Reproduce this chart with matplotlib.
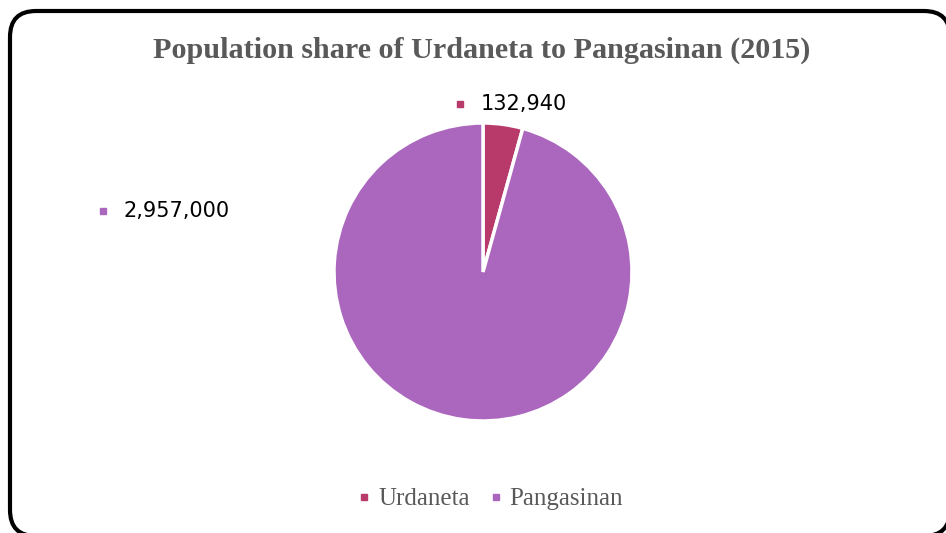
import matplotlib.pyplot as plt
from matplotlib.patches import FancyBboxPatch
from matplotlib.lines import Line2D

names = ["Urdaneta", "Pangasinan"]
population = [132940, 2957000]
colors = ["#B73A6B", "#AB67BD"]
title = "Population share of Urdaneta to Pangasinan (2015)"

fig = plt.figure(figsize=(9.46, 5.33), dpi=100)

# background axes in pixel units for the rounded frame
bg = fig.add_axes([0, 0, 1, 1], zorder=-1)
bg.set_xlim(0, 946)
bg.set_ylim(0, 533)
bg.axis("off")
frame = FancyBboxPatch((10, -3), 940, 525, boxstyle="round,pad=0,rounding_size=26",
                       facecolor="white", edgecolor="black", linewidth=3, clip_on=False)
bg.add_patch(frame)

# pie axes: centre (483,272) px, radius 149 px
cx, cy, r = 483, 272, 149
ax = fig.add_axes([(cx - r) / 946, (533 - cy - r) / 533, 2 * r / 946, 2 * r / 533])
ax.pie(population, colors=colors, startangle=90, counterclock=False, radius=1,
       wedgeprops=dict(edgecolor="white", linewidth=2.5))
ax.set_xlim(-1, 1)
ax.set_ylim(-1, 1)
ax.set_aspect("equal")
ax.axis("off")

# data labels with colored squares
label_pos = [(-0.155, 1.13), (-2.55, 0.41)]
for (x, y), v, c in zip(label_pos, population, colors):
    ax.plot([x], [y], marker="s", markersize=5, color=c, clip_on=False)
    ax.text(x + 0.14, y, f"{v:,}", fontsize=15, color="black", va="center", ha="left",
            family="DejaVu Sans")

fig.text(482 / 946, 1 - 50 / 533, title, ha="center", va="center", fontsize=21.7,
         fontweight="bold", color="#595959", family="Liberation Serif")

handles = [Line2D([], [], linestyle="none", marker="s", markersize=5, color=c) for c in colors]
leg = fig.legend(handles, names, loc="center", bbox_to_anchor=(490 / 946, 1 - 499 / 533),
                 ncol=2, frameon=False, handletextpad=0.25, columnspacing=0.75,
                 handlelength=0.6, prop={"family": "Liberation Serif", "size": 18})
for t in leg.get_texts():
    t.set_color("#595959")

fig.savefig("out.png", dpi=100)
